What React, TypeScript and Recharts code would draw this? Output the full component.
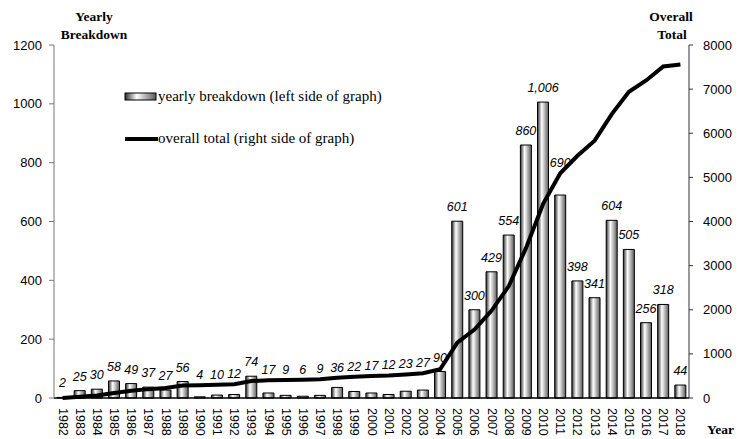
import React from "react";
import {
  ComposedChart,
  Bar,
  Line,
  XAxis,
  YAxis,
  LabelList,
} from "recharts";

const years = [
  "1982", "1983", "1984", "1985", "1986", "1987", "1988", "1989", "1990", "1991",
  "1992", "1993", "1994", "1995", "1996", "1997", "1998", "1999", "2000", "2001",
  "2002", "2003", "2004", "2005", "2006", "2007", "2008", "2009", "2010", "2011",
  "2012", "2013", "2014", "2015", "2016", "2017", "2018",
];

const yearly = [
  2, 25, 30, 58, 49, 37, 27, 56, 4, 10,
  12, 74, 17, 9, 6, 9, 36, 22, 17, 12,
  23, 27, 90, 601, 300, 429, 554, 860, 1006, 690,
  398, 341, 604, 505, 256, 318, 44,
];

const overall = [
  2, 27, 57, 115, 164, 201, 228, 284, 288, 298,
  310, 384, 401, 410, 416, 425, 461, 483, 500, 512,
  535, 562, 652, 1253, 1553, 1982, 2536, 3396, 4402, 5092,
  5490, 5831, 6435, 6940, 7196, 7514, 7558,
];

const leftTicks = [0, 200, 400, 600, 800, 1000, 1200];
const rightTicks = [0, 1000, 2000, 3000, 4000, 5000, 6000, 7000, 8000];

const data = years.map((year, i) => ({
  year,
  yearly: yearly[i],
  overall: overall[i],
}));

const sans = "'Liberation Sans', Arial, sans-serif";
const serif = "'Liberation Serif', 'Times New Roman', serif";

// label placement: nudge the number above the total line when they would collide
function BarLabel({ x, y, width, height, index, value }: any) {
  const bottom = y + height;
  const total = overall[index];
  // bar height / value gives px per unit on left axis; right axis max is 6.667x left
  const plotH = (height / Math.max(value, 1)) * 1200;
  const lineY = bottom - (total / 8000) * plotH;
  let base = y - 10;
  if (lineY > base - 14 && lineY < base + 4) base = lineY - 6;
  return (
    <text
      x={x + width / 2}
      y={base}
      textAnchor="middle"
      fontFamily={sans}
      fontSize={12.5}
      fontStyle="italic"
      fill="#000"
    >
      {Number(value).toLocaleString("en-US")}
    </text>
  );
}

function YearTick({ x, y, payload }: any) {
  return (
    <text
      x={0}
      y={0}
      transform={`translate(${x},${y + 2}) rotate(90)`}
      textAnchor="start"
      dominantBaseline="central"
      fontFamily={sans}
      fontSize={12.5}
      fill="#000"
    >
      {payload.value}
    </text>
  );
}

function LegendBox() {
  return (
    <div style={{ position: "absolute", left: 0, top: 0, width: 745, height: 439, fontFamily: serif, fontSize: 15, pointerEvents: "none" }}>
      <svg width={40} height={60} style={{ position: "absolute", left: 120, top: 85 }}>
        <defs>
          <linearGradient id="legendGrad" x1="0" y1="0" x2="1" y2="0">
            <stop offset="0%" stopColor="#2e2e2e" />
            <stop offset="38%" stopColor="#ffffff" />
            <stop offset="100%" stopColor="#5a5a5a" />
          </linearGradient>
        </defs>
        <rect x={5} y={8} width={31} height={7} fill="url(#legendGrad)" stroke="#000" strokeWidth={1} />
        <line x1={5} y1={54} x2={38} y2={54} stroke="#000" strokeWidth={4} />
      </svg>
      <div style={{ position: "absolute", left: 158, top: 88, whiteSpace: "nowrap" }}>
        yearly breakdown (left side of graph)
      </div>
      <div style={{ position: "absolute", left: 158, top: 130, whiteSpace: "nowrap" }}>
        overall total (right side of graph)
      </div>
    </div>
  );
}

export default function App() {
  return (
    <div style={{ position: "absolute", left: 0, top: 0, width: 745, height: 439, background: "#fff" }}>
      <ComposedChart
        width={745}
        height={439}
        data={data}
        margin={{ top: 45, right: 0, left: 0, bottom: 0 }}
        barCategoryGap={3}
      >
        <defs>
          <linearGradient id="barGrad" x1="0" y1="0" x2="1" y2="0">
            <stop offset="0%" stopColor="#2e2e2e" />
            <stop offset="38%" stopColor="#ffffff" />
            <stop offset="100%" stopColor="#5a5a5a" />
          </linearGradient>
        </defs>
        <XAxis
          dataKey="year"
          height={41}
          interval={0}
          tickLine={false}
          axisLine={{ stroke: "#000", strokeWidth: 1.5 }}
          tick={<YearTick />}
        />
        <YAxis
          yAxisId="left"
          width={54}
          domain={[0, 1200]}
          ticks={leftTicks}
          tickSize={5}
          tickMargin={7}
          axisLine={{ stroke: "#777" }}
          tickLine={{ stroke: "#777" }}
          tick={{ fill: "#000", fontFamily: sans, fontSize: 13 }}
        />
        <YAxis
          yAxisId="right"
          orientation="right"
          width={56}
          domain={[0, 8000]}
          ticks={rightTicks}
          tickSize={4}
          tickMargin={10}
          axisLine={{ stroke: "#333" }}
          tickLine={{ stroke: "#333" }}
          tick={{ fill: "#000", fontFamily: sans, fontSize: 13 }}
        />
        <Bar
          yAxisId="left"
          dataKey="yearly"
          fill="url(#barGrad)"
          stroke="#000"
          strokeWidth={1}
          isAnimationActive={false}
        >
          <LabelList dataKey="yearly" content={(p: any) => <BarLabel {...p} />} />
        </Bar>
        <Line
          yAxisId="right"
          dataKey="overall"
          type="linear"
          stroke="#000"
          strokeWidth={4}
          dot={false}
          isAnimationActive={false}
        />
        <text x={94} y={21} textAnchor="middle" fontFamily={serif} fontWeight="bold" fontSize={13.5}>
          Yearly
        </text>
        <text x={94} y={39} textAnchor="middle" fontFamily={serif} fontWeight="bold" fontSize={13.5}>
          Breakdown
        </text>
        <text x={671} y={21} textAnchor="middle" fontFamily={serif} fontWeight="bold" fontSize={13.5}>
          Overall
        </text>
        <text x={672} y={39} textAnchor="middle" fontFamily={serif} fontWeight="bold" fontSize={13.5}>
          Total
        </text>
        <text x={707} y={434} textAnchor="start" fontFamily={serif} fontWeight="bold" fontSize={13.5}>
          Year
        </text>
      </ComposedChart>
      <LegendBox />
    </div>
  );
}
